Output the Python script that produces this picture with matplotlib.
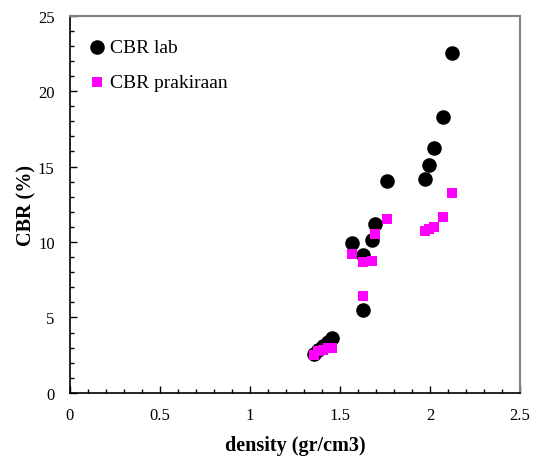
import matplotlib
matplotlib.use("Agg")
import matplotlib.pyplot as plt
from matplotlib.ticker import MultipleLocator

# Data
density = [1.355, 1.380, 1.408, 1.432, 1.457, 1.568, 1.627, 1.627, 1.676,
           1.696, 1.762, 1.974, 1.992, 2.020, 2.072, 2.120]
cbr_lab = [2.59, 2.85, 3.10, 3.40, 3.63, 9.93, 9.15, 5.52, 10.10,
           11.19, 14.04, 14.15, 15.07, 16.23, 18.28, 22.53]
cbr_prakiraan = [2.54, 2.77, 2.87, 2.96, 3.00, 9.22, 8.67, 6.45, 8.75,
                 10.50, 11.52, 10.70, 10.83, 11.01, 11.65, 13.24]

plt.rcParams['font.family'] = ['Liberation Serif', 'DejaVu Serif']

fig = plt.figure(figsize=(5.33, 4.60), dpi=100)
ax = fig.add_axes([0.1313, 0.1435, 0.8443, 0.8206])

ax.scatter(density, cbr_lab, s=110, marker='o', color='black',
           label='CBR lab', zorder=3, linewidths=0)
ax.scatter(density, cbr_prakiraan, s=55, marker='s', color='#ff00ff',
           label='CBR prakiraan', zorder=4, linewidths=0)

ax.set_xlim(0, 2.5)
ax.set_ylim(0, 25)
ax.xaxis.set_major_locator(MultipleLocator(0.5))
ax.xaxis.set_minor_locator(MultipleLocator(0.1))
ax.yaxis.set_major_locator(MultipleLocator(5))
ax.yaxis.set_minor_locator(MultipleLocator(1))
ax.xaxis.set_major_formatter(plt.FuncFormatter(lambda v, p: f'{v:g}'))
ax.yaxis.set_major_formatter(plt.FuncFormatter(lambda v, p: f'{v:g}'))

ax.tick_params(which='both', direction='in', top=False, right=False,
               labelsize=12, width=1)
ax.tick_params(which='major', length=5)
ax.tick_params(which='minor', length=3)
ax.tick_params(axis='x', which='major', pad=10)
ax.tick_params(axis='y', which='major', pad=11)

for side in ['top', 'right']:
    ax.spines[side].set_color('#808080')
    ax.spines[side].set_linewidth(1.5)
for side in ['left', 'bottom']:
    ax.spines[side].set_color('black')
    ax.spines[side].set_linewidth(1.2)

ax.set_xlabel('density (gr/cm3)', fontsize=14.5, fontweight='bold', labelpad=9)
ax.set_ylabel('CBR (%)', fontsize=14.5, fontweight='bold', labelpad=1)

ax.legend(loc='upper left', frameon=False, fontsize=14, handlelength=1.0,
          handletextpad=0.2, borderaxespad=0, borderpad=0, labelspacing=0.9,
          bbox_to_anchor=(0.038, 0.94))

fig.savefig('out.png', dpi=100)
